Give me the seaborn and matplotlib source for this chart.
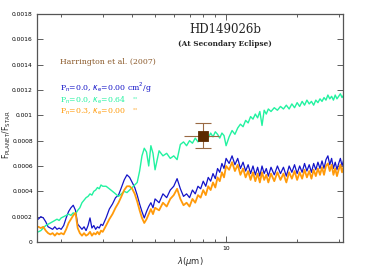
import matplotlib
matplotlib.use("Agg")
import matplotlib.pyplot as plt
import matplotlib.ticker as mticker
import numpy as np
import pandas as pd
import seaborn as sns

# wavelength grid (micron)
wavelength = [1.60, 1.64, 1.68, 1.72, 1.76, 1.80, 1.84, 1.88, 1.92, 1.96, 2.00,
              2.05, 2.10, 2.15, 2.20, 2.25, 2.30, 2.35, 2.40, 2.45, 2.50,
              2.55, 2.60, 2.65, 2.70, 2.75, 2.80, 2.85, 2.90, 2.95, 3.00,
              3.1, 3.2, 3.3, 3.4, 3.5, 3.6, 3.7, 3.8, 3.9, 4.0,
              4.1, 4.2, 4.3, 4.4, 4.5, 4.6, 4.7, 4.8, 4.9, 5.0,
              5.2, 5.4, 5.6, 5.8, 6.0, 6.2, 6.4, 6.6, 6.8, 7.0,
              7.2, 7.4, 7.6, 7.8, 8.0, 8.2, 8.4, 8.6, 8.8, 9.0,
              9.2, 9.4, 9.6, 9.8, 10.0,
              10.3, 10.6, 10.9, 11.2, 11.5, 11.8, 12.1, 12.4, 12.7, 13.0,
              13.3, 13.6, 13.9, 14.2, 14.5, 14.8, 15.1,
              15.5, 16.0, 16.5, 17.0, 17.5, 18.0, 18.5, 19.0, 19.5, 20.0,
              20.5, 21.0, 21.5, 22.0, 22.5, 23.0, 23.5, 24.0, 24.5, 25.0,
              25.5, 26.0, 26.5, 27.0, 27.5, 28.0, 28.5, 29.0, 29.5, 30.0,
              30.5, 31.0, 31.5]

# Pn=0.0, kappa=0.00
flux_blue = [0.00018, 0.00020, 0.00019, 0.00016, 0.00012, 0.00011, 0.00010, 0.00012, 0.00010, 0.00011, 0.00010,
             0.00013, 0.00019, 0.00024, 0.00027, 0.00029, 0.00025, 0.00014, 0.00012, 0.00010, 0.00012,
             0.00009, 0.00013, 0.00019, 0.00011, 0.00013, 0.00010, 0.00012, 0.00011, 0.00014, 0.00013,
             0.00019, 0.00026, 0.00030, 0.00035, 0.00037, 0.00043, 0.00049, 0.00053, 0.00051, 0.00047,
             0.00043, 0.00037, 0.00030, 0.00024, 0.00019, 0.00024, 0.00028, 0.00031, 0.00027, 0.00034,
             0.00031, 0.00038, 0.00035, 0.00041, 0.00044, 0.00050, 0.00042, 0.00036, 0.00038, 0.00035,
             0.00041, 0.00038, 0.00044, 0.00042, 0.00048, 0.00044, 0.00051, 0.00048, 0.00054, 0.00050,
             0.00058, 0.00055, 0.00062, 0.00058, 0.00066,
             0.00062, 0.00068, 0.00061, 0.00066, 0.00058, 0.00063, 0.00056, 0.00061, 0.00054, 0.00060,
             0.00053, 0.00059, 0.00052, 0.00060, 0.00054, 0.00058, 0.00052,
             0.00059, 0.00053, 0.00060, 0.00054, 0.00059, 0.00052, 0.00060, 0.00055, 0.00061, 0.00054,
             0.00060, 0.00055, 0.00062, 0.00056, 0.00061, 0.00055, 0.00062, 0.00057, 0.00063, 0.00058,
             0.00064, 0.00058, 0.00065, 0.00068, 0.00061, 0.00066, 0.00058, 0.00063, 0.00057, 0.00062,
             0.00066, 0.00060, 0.00065]

# Pn=0.0, kappa=0.64
flux_green = [0.00008, 0.00009, 0.00011, 0.00013, 0.00014, 0.00015, 0.00016, 0.00017, 0.00018, 0.00017, 0.00019,
              0.00020, 0.00021, 0.00022, 0.00021, 0.00023, 0.00022, 0.00025, 0.00027, 0.00031, 0.00033,
              0.00035, 0.00036, 0.00038, 0.00037, 0.00040, 0.00041, 0.00043, 0.00042, 0.00045, 0.00044,
              0.00044, 0.00042, 0.00040, 0.00038, 0.00036, 0.00038, 0.00040, 0.00039, 0.00041, 0.00043,
              0.00045, 0.00047, 0.00056, 0.00068, 0.00074, 0.00071, 0.00060, 0.00076, 0.00070, 0.00057,
              0.00072, 0.00068, 0.00070, 0.00066, 0.00068, 0.00065, 0.00077, 0.00079, 0.00076, 0.00080,
              0.00078, 0.00082, 0.00079, 0.00083, 0.00081, 0.00084, 0.00082, 0.00086, 0.00083, 0.00087,
              0.00085, 0.00082, 0.00086, 0.00084, 0.00076,
              0.00083, 0.00088, 0.00085, 0.00090, 0.00093, 0.00091, 0.00096, 0.00094, 0.00099, 0.00097,
              0.00101, 0.00098, 0.00103, 0.00092, 0.00104, 0.00101, 0.00105,
              0.00103, 0.00106, 0.00104, 0.00107, 0.00105, 0.00108, 0.00105, 0.00109, 0.00106, 0.00110,
              0.00107, 0.00111, 0.00108, 0.00112, 0.00109, 0.00111, 0.00108, 0.00112, 0.00110, 0.00113,
              0.00111, 0.00114, 0.00112, 0.00116, 0.00113, 0.00115, 0.00112, 0.00116, 0.00113, 0.00115,
              0.00117, 0.00114, 0.00116]

# Pn=0.3, kappa=0.00
flux_orange = [0.00012, 0.00011, 0.00012, 0.00009, 0.00007, 0.00006, 0.00007, 0.00005, 0.00007, 0.00006, 0.00007,
               0.00006, 0.00010, 0.00015, 0.00018, 0.00021, 0.00023, 0.00011, 0.00007, 0.00005, 0.00007,
               0.00005, 0.00006, 0.00008, 0.00005, 0.00007, 0.00006, 0.00008, 0.00006, 0.00009, 0.00008,
               0.00013, 0.00018, 0.00022, 0.00027, 0.00031, 0.00036, 0.00041, 0.00044, 0.00044, 0.00042,
               0.00038, 0.00032, 0.00025, 0.00019, 0.00015, 0.00018, 0.00022, 0.00026, 0.00022, 0.00027,
               0.00025, 0.00031, 0.00028, 0.00034, 0.00037, 0.00042, 0.00034, 0.00029, 0.00031, 0.00028,
               0.00034, 0.00031, 0.00037, 0.00035, 0.00041, 0.00037, 0.00044, 0.00041, 0.00047, 0.00043,
               0.00051, 0.00048, 0.00055, 0.00051, 0.00060,
               0.00057, 0.00063, 0.00056, 0.00061, 0.00053, 0.00058, 0.00051, 0.00056, 0.00049, 0.00055,
               0.00048, 0.00054, 0.00047, 0.00055, 0.00049, 0.00053, 0.00047,
               0.00054, 0.00048, 0.00055, 0.00049, 0.00054, 0.00047, 0.00055, 0.00050, 0.00056, 0.00049,
               0.00055, 0.00050, 0.00057, 0.00051, 0.00056, 0.00050, 0.00057, 0.00052, 0.00058, 0.00053,
               0.00059, 0.00053, 0.00060, 0.00062, 0.00056, 0.00061, 0.00053, 0.00058, 0.00052, 0.00057,
               0.00061, 0.00055, 0.00060]

# Harrington et al. (2007) secondary eclipse point
obs_wave = [8.0]
obs_flux = [0.00084]
obs_wave_lo = [6.6]
obs_wave_hi = [9.3]
obs_err = [0.0001]

y_ticks = [0, 0.0002, 0.0004, 0.0006, 0.0008, 0.001, 0.0012, 0.0014, 0.0016, 0.0018]
y_ticklabels = ["0", "0.0002", "0.0004", "0.0006", "0.0008", "0.001",
                "0.0012", "0.0014", "0.0016", "0.0018"]

sns.set_style("ticks")
plt.rcParams["font.family"] = ["DejaVu Sans"]

df = pd.DataFrame({"wave": wavelength, "blue": flux_blue,
                   "green": flux_green, "orange": flux_orange})

fig = plt.figure(figsize=(3.65, 2.73), dpi=100)
ax = fig.add_axes([0.1014, 0.1136, 0.8384, 0.8352])

sns.lineplot(data=df, x="wave", y="blue", color="#1414c8", lw=0.9, ax=ax, sort=False, estimator=None)
sns.lineplot(data=df, x="wave", y="green", color="#22f2a0", lw=1.0, ax=ax, sort=False, estimator=None)
sns.lineplot(data=df, x="wave", y="orange", color="#ff9a0a", lw=1.3, ax=ax, sort=False, estimator=None)

xerr = [[obs_wave[0] - obs_wave_lo[0]], [obs_wave_hi[0] - obs_wave[0]]]
ax.errorbar(obs_wave, obs_flux, xerr=xerr, fmt="none", ecolor="#9a6a44", elinewidth=0.8, capsize=0)
ax.errorbar(obs_wave, obs_flux, yerr=obs_err, fmt="none", ecolor="#9a6a44", elinewidth=0.8,
            capsize=6, capthick=0.8)
sns.scatterplot(x=obs_wave, y=obs_flux, marker="s", s=55, color="#5c2a00", edgecolor="#5c2a00", ax=ax, zorder=5)

ax.set_xscale("log")
ax.set_xlim(1.58, 31.3)
ax.set_ylim(0, 0.0018)
ax.xaxis.set_major_locator(mticker.FixedLocator([10]))
ax.xaxis.set_major_formatter(mticker.FixedFormatter(["10"]))
ax.xaxis.set_minor_locator(mticker.FixedLocator([2, 3, 4, 5, 6, 7, 8, 9, 20, 30]))
ax.xaxis.set_minor_formatter(mticker.NullFormatter())
ax.set_yticks(y_ticks)
ax.set_yticklabels(y_ticklabels)

ax.tick_params(which="both", direction="in", top=True, right=True, colors="#444444",
               labelcolor="black", labelsize=4.3, width=0.6, pad=3)
ax.tick_params(which="major", length=4)
ax.tick_params(which="minor", length=2.5)
for sp in ax.spines.values():
    sp.set_color("#555555")
    sp.set_linewidth(0.9)

ax.set_xlabel(r"$\lambda$($\mu$m)", fontsize=6, labelpad=3)
ax.set_ylabel(r"F$_{\rm PLANET}$/F$_{\rm STAR}$", fontsize=5.6)
ax.yaxis.set_label_coords(-0.08, 0.47)

ax.text(0.614, 0.934, "HD149026b", transform=ax.transAxes, ha="center", va="center",
        fontsize=8.5, family="DejaVu Serif")
ax.text(0.614, 0.868, "(At Secondary Eclipse)", transform=ax.transAxes, ha="center", va="center",
        fontsize=5.3, family="DejaVu Serif", fontweight="bold")
ax.text(0.075, 0.789, "Harrington et al. (2007)", transform=ax.transAxes, ha="left", va="center",
        fontsize=5.6, family="DejaVu Serif", color="#8b5a2b")
ax.text(0.075, 0.675, r"P$_{\rm n}$=0.0, $\kappa_{\rm e}$=0.00 cm$^{2}$/g", transform=ax.transAxes,
        ha="left", va="center", fontsize=5.6, family="DejaVu Serif", color="#1414c8")
ax.text(0.075, 0.623, r"P$_{\rm n}$=0.0, $\kappa_{\rm e}$=0.64   ''", transform=ax.transAxes,
        ha="left", va="center", fontsize=5.6, family="DejaVu Serif", color="#22f2a0")
ax.text(0.075, 0.570, r"P$_{\rm n}$=0.3, $\kappa_{\rm e}$=0.00   ''", transform=ax.transAxes,
        ha="left", va="center", fontsize=5.6, family="DejaVu Serif", color="#ff9a0a")

fig.savefig("out.png", dpi=100)
